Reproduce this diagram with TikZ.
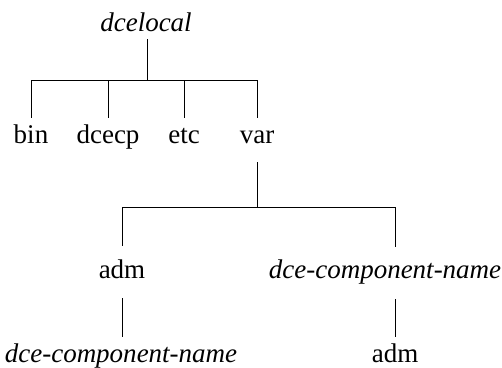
\documentclass[tikz,border=0pt]{standalone}
\usepackage{fontspec}
\setmainfont{Liberation Serif}
\usepackage{tikz}
\usetikzlibrary{calc}
\tikzset{dir/.style={inner sep=0pt, text height=20pt, text depth=6pt, anchor=base, font=\fontsize{27}{32}\selectfont},
         var/.style={dir, font=\fontsize{27}{32}\selectfont\itshape},
         branch/.style={line width=0.8pt}}

\begin{document}
\begin{tikzpicture}[x=1pt,y=-1pt]
        \useasboundingbox (0,0) rectangle (502,367);

        % Top level
        \node[var] (dcelocal) at (146,31) {dcelocal};
        \coordinate (top) at (147,80);
        \node[dir] (bin) at (31,143) {bin};
        \node[dir] (dcecp) at (108,143) {dcecp};
        \node[dir] (etc) at (184,143) {etc};
        \node[dir] (vardir) at (257,143) {var};

        \draw[branch, shorten <=2pt] (dcelocal.south -| top) -- (top);
        \draw[branch] (bin.north |- top) -- (vardir.north |- top);
        \foreach \n in {bin,dcecp,etc,vardir}
            \draw[branch, shorten >=5pt] (\n.north |- top) -- (\n.north);

        % Below var
        \coordinate (varj) at (257,207);
        \node[dir] (adm) at (122,278) {adm};
        \node[var] (compname) at (385,278) {dce-component-name};
        \node[var] (compname2) at (121,362) {dce-component-name};
        \node[dir] (adm2) at (395,362) {adm};

        \draw[branch, shorten <=13pt] (vardir.south) -- (varj);
        \draw[branch] (adm.north |- varj) -- (adm2.north |- varj);
        \draw[branch, shorten >=12pt] (adm.north |- varj) -- (adm.north);
        \draw[branch, shorten >=11pt] (adm2.north |- varj) -- (adm2.north |- compname.north);
        \draw[branch, shorten <=14pt, shorten >=5pt] (adm.south) -- (adm.south |- compname2.north);
        \draw[branch, shorten <=15pt, shorten >=5pt] (adm2.north |- compname.south) -- (adm2.north);

    \end{tikzpicture}
\end{document}
